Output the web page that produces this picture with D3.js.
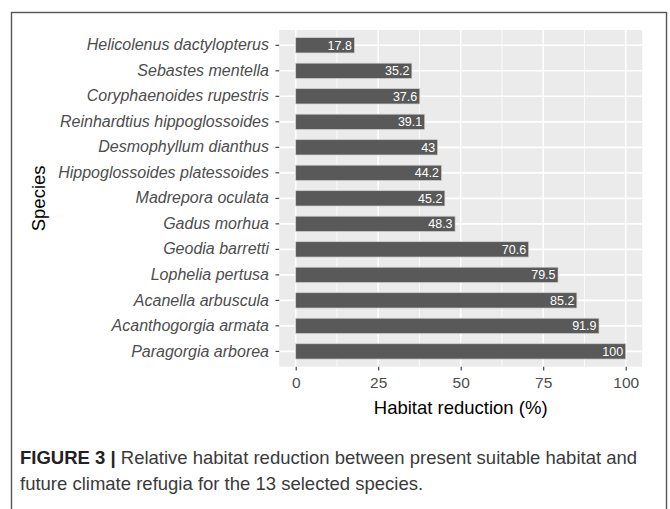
<!DOCTYPE html>
<html>
<head>
<meta charset="utf-8">
<script src="https://cdn.jsdelivr.net/npm/d3@7"></script>
<style>
  body { margin: 0; background: #fff; }
  svg { display: block; font-family: "Liberation Sans", Arial, sans-serif; }
</style>
</head>
<body>
<svg id="chart" width="670" height="509"></svg>
<script>
// Species, top to bottom as drawn
var species = [
  'Helicolenus dactylopterus', 'Sebastes mentella', 'Coryphaenoides rupestris',
  'Reinhardtius hippoglossoides', 'Desmophyllum dianthus', 'Hippoglossoides platessoides',
  'Madrepora oculata', 'Gadus morhua', 'Geodia barretti', 'Lophelia pertusa',
  'Acanella arbuscula', 'Acanthogorgia armata', 'Paragorgia arborea'
];
var reduction = [17.8, 35.2, 37.6, 39.1, 43, 44.2, 45.2, 48.3, 70.6, 79.5, 85.2, 91.9, 100];
var xTicks = [0, 25, 50, 75, 100];
var xMinor = [12.5, 37.5, 62.5, 87.5];

var svg = d3.select('#chart');
var panel = {left: 279.2, right: 642.2, top: 30, bottom: 366.7};

// ggplot-like scales: 5% expansion on x, 0.6 on discrete y
var x = d3.scaleLinear().domain([-5, 105]).range([panel.left, panel.right]);
var y = d3.scaleBand().domain(species).range([panel.top, panel.bottom])
          .paddingInner(0.4).paddingOuter(0.3);

// outer frame
svg.append('rect')
  .attr('x', 11.5).attr('y', 12.5).attr('width', 655).attr('height', 520)
  .attr('fill', 'none').attr('stroke', '#555').attr('stroke-width', 1.4);

// panel background and grid
svg.append('rect')
  .attr('x', panel.left).attr('y', panel.top)
  .attr('width', panel.right - panel.left).attr('height', panel.bottom - panel.top)
  .attr('fill', '#ebebeb');

svg.append('g').selectAll('line').data(xMinor).join('line')
  .attr('x1', d => x(d)).attr('x2', d => x(d))
  .attr('y1', panel.top).attr('y2', panel.bottom)
  .attr('stroke', '#fff').attr('stroke-width', 0.8);

svg.append('g').selectAll('line').data(xTicks).join('line')
  .attr('x1', d => x(d)).attr('x2', d => x(d))
  .attr('y1', panel.top).attr('y2', panel.bottom)
  .attr('stroke', '#fff').attr('stroke-width', 1.6);

svg.append('g').selectAll('line').data(species).join('line')
  .attr('x1', panel.left).attr('x2', panel.right)
  .attr('y1', d => y(d) + y.bandwidth() / 2).attr('y2', d => y(d) + y.bandwidth() / 2)
  .attr('stroke', '#fff').attr('stroke-width', 1.6);

// bars
svg.append('g').selectAll('rect').data(species).join('rect')
  .attr('x', x(0)).attr('y', d => y(d))
  .attr('width', (d, i) => x(reduction[i]) - x(0))
  .attr('height', y.bandwidth())
  .attr('fill', '#595959').attr('stroke', '#d0d0d0').attr('stroke-width', 0.7);

// value labels inside bars
svg.append('g').selectAll('text').data(species).join('text')
  .attr('x', (d, i) => x(reduction[i]) - 2.5)
  .attr('y', d => y(d) + y.bandwidth() / 2)
  .attr('dy', '0.36em')
  .attr('text-anchor', 'end')
  .attr('fill', '#fff').attr('font-size', 12.5)
  .text((d, i) => reduction[i]);

// y axis
var yAxis = svg.append('g')
  .attr('transform', `translate(${panel.left},0)`)
  .call(d3.axisLeft(y).tickSize(3.7).tickPadding(6.5));
yAxis.select('.domain').remove();
yAxis.selectAll('.tick line').attr('stroke', '#333').attr('stroke-width', 1.1);
yAxis.selectAll('.tick text')
  .attr('font-size', 16).attr('font-style', 'italic').attr('fill', '#4d4d4d')
  .attr('font-family', '"Liberation Sans", Arial, sans-serif');

// x axis
var xAxis = svg.append('g')
  .attr('transform', `translate(0,${panel.bottom})`)
  .call(d3.axisBottom(x).tickValues(xTicks).tickSize(3.7).tickPadding(6.5));
xAxis.select('.domain').remove();
xAxis.selectAll('.tick line').attr('stroke', '#333').attr('stroke-width', 1.1);
xAxis.selectAll('.tick text')
  .attr('font-size', 15.5).attr('fill', '#4d4d4d')
  .attr('font-family', '"Liberation Sans", Arial, sans-serif');

// axis titles
svg.append('text')
  .attr('x', (panel.left + panel.right) / 2).attr('y', 414)
  .attr('text-anchor', 'middle').attr('font-size', 18.5).attr('fill', '#000')
  .text('Habitat reduction (%)');

svg.append('text')
  .attr('transform', `translate(44.5,${(panel.top + panel.bottom) / 2}) rotate(-90)`)
  .attr('text-anchor', 'middle').attr('font-size', 18.5).attr('fill', '#000')
  .text('Species');

// figure caption
var cap = svg.append('text').attr('x', 20).attr('y', 464)
  .attr('font-size', 18.5).attr('fill', '#3a3a3a');
cap.append('tspan').attr('font-weight', 'bold').attr('fill', '#222').text('FIGURE 3 |');
cap.append('tspan').text(' Relative habitat reduction between present suitable habitat and');
svg.append('text').attr('x', 20).attr('y', 490)
  .attr('font-size', 18.5).attr('fill', '#3a3a3a')
  .text('future climate refugia for the 13 selected species.');
</script>
</body>
</html>
